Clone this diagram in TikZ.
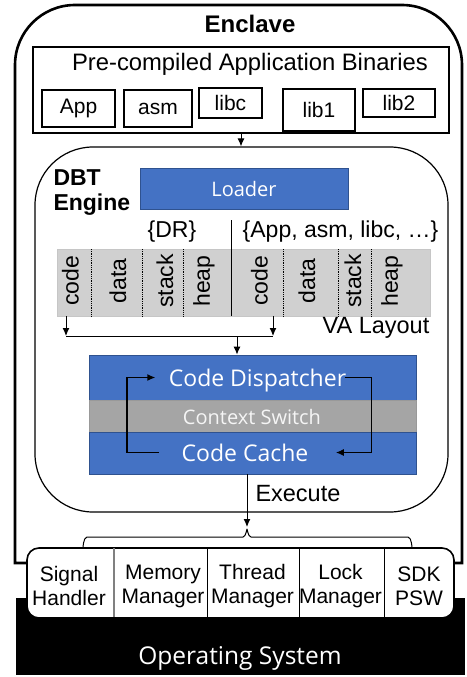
\documentclass[tikz,border=0pt]{standalone}
\usepackage{fontspec}
\setmainfont{Liberation Sans}
\newfontfamily\uifont{Open Sans}
\usetikzlibrary{arrows.meta}

\definecolor{barblue}{HTML}{4472C4}
\definecolor{barline}{HTML}{2F528F}
\definecolor{switchgray}{HTML}{A5A5A5}
\definecolor{layoutgray}{HTML}{D0D0D0}

\newcommand\fsize[2]{\fontsize{#1}{#2}\selectfont}

\tikzset{
	every node/.style = {inner sep = 0pt},
	box/.style = {draw, line width = 1.2pt, font = \fsize{21}{24}},
	bar/.style = {draw = barline, line width = 0.8pt, fill = barblue, minimum width = 327pt},
	bartext/.style = {text = white, text depth = 0pt, font = \uifont\fsize{23}{26}}
}

\begin{document}
\begin{tikzpicture}[x = 1pt, y = -1pt, > = {Latex[length = 8pt, width = 7pt]}, line width = 1pt]

	\useasboundingbox (0, 0) rectangle (466, 677);

	% Operating system
	
	\fill (16, 598) rectangle (465, 675);
	\node [text = white, font = \uifont\fsize{24.5}{28}] (os) at (240, 658) {Operating System};
	
	% Enclave
	
	\draw [line width = 2.6pt] (27, 563) -- (15, 563) -- (15, 65) arc (180 : 90 : 60pt) -- (402, 5) arc (90 : 0 : 60pt) -- (462, 563) -- (454, 563);
	\node [font = \bfseries\fsize{24}{28}] (enclave) at (250, 24) {Enclave};
	
	% Pre-compiled binaries
	
	\node [box, minimum width = 416pt, minimum height = 86pt] (bins) at (241, 90) {};
	\node [font = \fsize{23.8}{28}] (binstitle) at (250, 64) {Pre-compiled Application Binaries};
	
	\foreach \x/\y/\w/\h/\n/\t in {78.5/108.5/73/37/app/App, 158/108.5/68/37/asm/asm, 230.5/103/63/30/libc/libc, 319/110/72/42/libone/lib1, 399/103/72/28/libtwo/lib2}
		\node [box, minimum width = \w pt, minimum height = \h pt] (\n) at (\x, \y) {\t};
	
	% DBT engine
	
	\node [draw, line width = 1.2pt, rounded corners = 58pt, minimum width = 413pt, minimum height = 365pt] (dbt) at (241.5, 329.5) {};
	\draw [->] (bins.south) -- (bins.south |- dbt.north);
	
	\node [anchor = west, align = left, font = \bfseries\fsize{23}{25}] (dbtlabel) at (53, 193) {DBT\\Engine};
	
	\node [bar, minimum width = 208pt, minimum height = 41pt, text = white, font = \uifont\fsize{20}{24}] (loader) at (244, 188.5) {Loader};
	
	% VA layout
	
	\node [font = \fsize{23}{26}] (dr) at (172, 232) {\{DR\}};
	\node [font = \fsize{23}{26}] (apps) at (340.5, 232) {\{App, asm, libc, …\}};
	
	\node [draw = gray!45, fill = layoutgray, line width = 0.8pt, minimum width = 373pt, minimum height = 67pt] (va) at (243.5, 282.5) {};
	
	\foreach \x in {91, 142, 183, 283, 338, 371}
		\draw [densely dotted, line width = 0.8pt] (\x, 249) -- (\x, 316);
	\draw (231, 220) -- (231, 316);
	
	\foreach \x/\t in {70.5/code, 118/data, 165/stack, 204/heap, 259.5/code, 307/data, 353/stack, 392/heap}
		\node [rotate = 90, font = \fsize{23}{26}] at (\x, 281) {\t};
	
	\node [font = \fsize{23.5}{26}] (valabel) at (376, 328) {VA Layout};
	
	\coordinate (busl) at (66, 336);
	\coordinate (busr) at (273, 336);
	\coordinate (busm) at (237, 336);
	
	\draw [->] (busl |- va.south) -- (busl);
	\draw [->] (busr |- va.south) -- (busr);
	\draw (busl) -- (busr);
	
	% Dispatcher, context switch, code cache
	
	\node [bar, minimum height = 45pt] (dispbar) at (252.5, 377.5) {};
	\node [draw = gray!80, line width = 0.8pt, fill = switchgray, minimum width = 327pt, minimum height = 32pt] (switchbar) at (252.5, 416) {};
	\node [bar, minimum height = 42pt] (cachebar) at (252.5, 453) {};
	
	\draw [->] (busm) -- (busm |- dispbar.north);
	
	\node [bartext] (disp) at (257.5, 377.5) {Code Dispatcher};
	\node [text = gray!8, font = \uifont\fsize{20}{24}] (switch) at (252, 416.5) {Context Switch};
	\node [bartext] (cache) at (245, 452.5) {Code Cache};
	
	\begin{scope}[line width = 1.4pt]
		\draw [->] ([xshift = -22pt] cache.west) -- ++(-32, 0) |- ([xshift = -13pt] disp.west);
		\draw [->] ([xshift = -2pt] disp.east) -- ++(27, 0) |- ([xshift = 27pt] cache.east);
	\end{scope}
	
	% Execute + trusted services
	
	\coordinate (exec) at (247, 527);
	\draw [->] (cachebar.south -| exec) -- node [pos = 0.36, right = 8pt, font = \fsize{23.5}{26}] (exectext) {Execute} (exec);
	
	\draw (83, 546) to [out = -90, in = 180] (87, 537) -- (243, 537) to [out = 0, in = 90] (247, 530) to [out = 90, in = 180] (251, 537) -- (408, 537) to [out = 0, in = -90] (412, 546);
	
	\node [draw, fill = white, line width = 1.6pt, rounded corners = 12pt, minimum width = 427pt, minimum height = 70pt] (svc) at (240.5, 583) {};
	
	\draw [gray, line width = 1.4pt] (114, 548) -- (114, 617);
	\foreach \x in {207, 299, 384}
		\draw (\x, 548) -- (\x, 618);
	
	\foreach \x/\n/\t in {69/sig/{Signal\\Handler}, 163/mem/{Memory\\Manager}, 252.5/thr/{Thread\\Manager}, 340.5/lock/{Lock\\Manager}, 419/sdk/{SDK\\PSW}}
		\node [align = center, font = \fsize{21}{24}] (\n) at (\x, 586) {\t};

\end{tikzpicture}
\end{document}
